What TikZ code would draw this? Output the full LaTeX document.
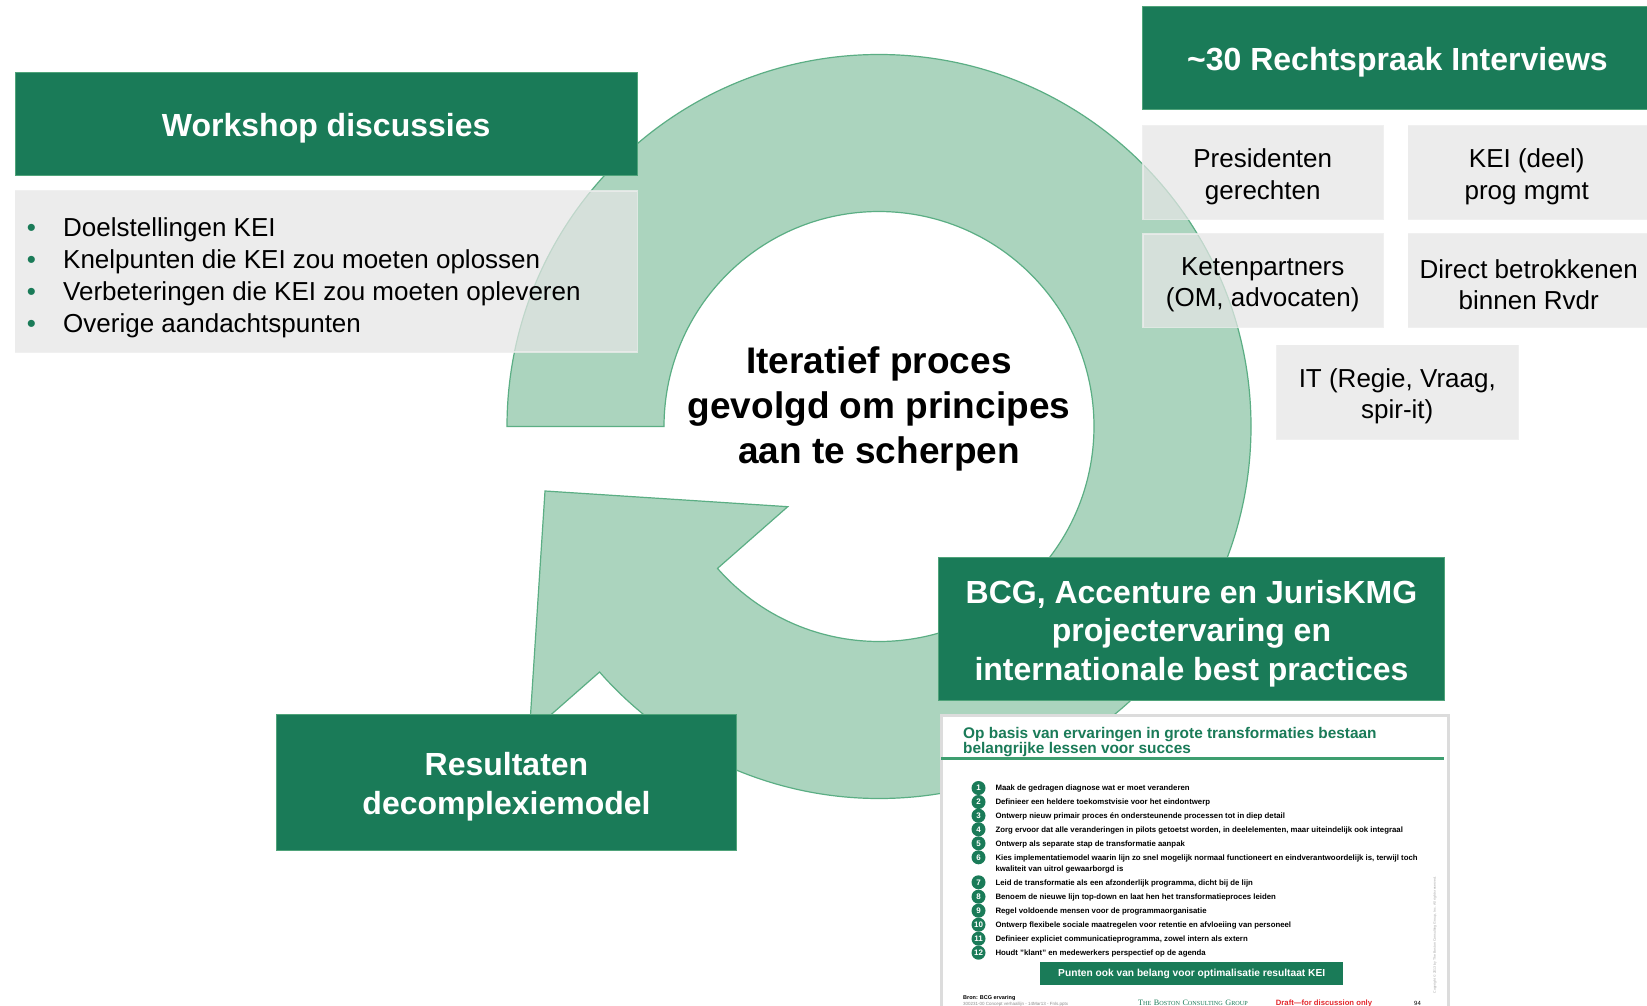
\documentclass[tikz,border=0pt]{standalone}
\usepackage{fontspec}
\setmainfont{Liberation Sans}
\newfontfamily\bcgserif{Liberation Serif}
\usetikzlibrary{calc}
\definecolor{hdrgreen}{HTML}{1A7B58}
\definecolor{hdredge}{HTML}{4FA37A}
\definecolor{arcfill}{HTML}{ABD4BE}
\definecolor{arcedge}{HTML}{5BAE84}
\definecolor{boxgray}{HTML}{E6E6E6}
\definecolor{boxedge}{HTML}{EDEDED}
\definecolor{draftred}{HTML}{E3262B}
\definecolor{slideedge}{HTML}{DCDCDC}
\definecolor{rulegreen}{HTML}{3E9E70}
\newcommand\bcgcap[2]{{\fontsize{8.2}{8}\selectfont #1}{\fontsize{6.2}{6}\selectfont #2}}
\begin{document}
\begin{tikzpicture}[x=1pt,y=-1pt,
  hdr/.style={fill=hdrgreen, draw=hdredge, line width=1pt, inner sep=0pt, anchor=north west},
  hdrtext/.style={text=white, font=\fontsize{32}{38.5}\selectfont\bfseries, align=center, inner sep=0pt},
  graybox/.style={fill=boxgray, fill opacity=0.72, draw=boxedge, draw opacity=0.8, line width=1.5pt,
    inner sep=0pt, anchor=north west},
  graytext/.style={text=black, font=\fontsize{26}{31.5}\selectfont, align=center, inner sep=0pt},
  bulletdot/.style={text=hdrgreen, font=\fontsize{26}{26}\selectfont, inner sep=0pt, anchor=base},
  bullettext/.style={font=\fontsize{26}{26}\selectfont, inner sep=0pt, anchor=base west},
  numdot/.style={circle, fill=hdrgreen, minimum size=14pt, inner sep=0pt, text=white,
    font=\fontsize{8}{8}\selectfont\bfseries},
  itemtext/.style={anchor=base west, inner sep=0pt, font=\fontsize{7.8}{12.3}\selectfont\bfseries},
  slidetitle/.style={anchor=base west, inner sep=0pt, text=hdrgreen, font=\fontsize{15.4}{15.4}\selectfont\bfseries},
  tiny/.style={anchor=base west, inner sep=0pt}
]
\useasboundingbox (0,0) rectangle (1647,1006);
\fill[white] (0,0) rectangle (1647,1006);

% ---- circular arrow ----
\coordinate (C) at (879,426.5);
\def\ang{138.7}
\coordinate (Iend) at ($(C)+(\ang:215)$);
\coordinate (Mid) at ($(C)+(\ang:293.5)$);
\coordinate (BarbOut) at ($(C)+(\ang:465.5)$);
\coordinate (BarbIn) at ($(C)+(\ang:121.5)$);
\coordinate (Tip) at ($(Mid)+({\ang+90}:172)$);
\draw[draw=arcedge, fill=arcfill, line width=1.2pt, line join=miter]
  ($(C)+(180:372)$) arc[start angle=180, end angle=498.7, radius=372]
  -- (BarbOut) -- (Tip) -- (BarbIn) -- (Iend)
  arc[start angle=498.7, end angle=180, radius=215] -- cycle;

% ---- workshop ----
\node[graybox, minimum width=622pt, minimum height=161pt] (wsbox) at (14.7,190) {};
\node[hdr, minimum width=622pt, minimum height=103pt] (ws) at (14.7,72.5) {};
\node[hdrtext] (wst) at ($(ws.center)+(0,4.2)$) {Workshop discussies};
\node[bulletdot] (b1) at (31.5,236.5) {\textbullet};
\node[bullettext] (l1) at (63,236.5) {Doelstellingen KEI};
\node[bulletdot] (b2) at (31.5,268.3) {\textbullet};
\node[bullettext] (l2) at (63,268.3) {Knelpunten die KEI zou moeten oplossen};
\node[bulletdot] (b3) at (31.5,300.3) {\textbullet};
\node[bullettext] (l3) at (63,300.3) {Verbeteringen die KEI zou moeten opleveren};
\node[bulletdot] (b4) at (31.5,332.3) {\textbullet};
\node[bullettext] (l4) at (63,332.3) {Overige aandachtspunten};

% ---- interviews ----
\node[hdr, minimum width=510pt, minimum height=102.7pt] (rs) at (1142,6.3) {};
\node[hdrtext] (rst) at ($(rs.center)+(0,4.2)$) {\textasciitilde 30 Rechtspraak Interviews};
\node[graybox, minimum width=240pt, minimum height=93.5pt] (pres) at (1142,125) {};
\node[graytext] (prest) at ($(pres.center)+(0,4.2)$) {Presidenten\\gerechten};
\node[graybox, minimum width=241pt, minimum height=93.5pt] (kei) at (1407.5,125) {};
\node[graytext] (keit) at ($(kei.center)+(-2,4.2)$) {KEI (deel)\\prog mgmt};
\node[graybox, minimum width=240pt, minimum height=93.7pt] (keten) at (1142,233) {};
\node[graytext] (ketent) at ($(keten.center)+(0,4.2)$) {Ketenpartners\\(OM, advocaten)};
\node[graybox, minimum width=241pt, minimum height=93.7pt] (direct) at (1407.5,233) {};
\node[graytext] (directt) at ($(direct.center)+(0,4.2)$) {Direct betrokkenen\\binnen Rvdr};
\node[graybox, minimum width=241pt, minimum height=93.5pt] (it) at (1276,344.5) {};
\node[graytext] (itt) at ($(it.center)+(0,4.2)$) {IT (Regie, Vraag,\\spir-it)};

% ---- centre ----
\node[font=\fontsize{37}{44.6}\selectfont\bfseries, align=center, inner sep=0pt] (centre) at (879,409) {Iteratief proces\\gevolgd om principes\\aan te scherpen};

% ---- BCG ----
\node[hdr, minimum width=506pt, minimum height=143pt] (bcg) at (938,556.7) {};
\node[hdrtext] (bcgt) at ($(bcg.center)+(0,5)$) {BCG, Accenture en JurisKMG\\projectervaring en\\internationale best practices};

% ---- slide ----
\node[draw=slideedge, line width=3pt, fill=white, anchor=north west, minimum width=507pt,
  minimum height=300pt, inner sep=0pt] (slide) at (939.5,713.5) {};
\node[slidetitle] (st1) at (963,738.2) {Op basis van ervaringen in grote transformaties bestaan};
\node[slidetitle] (st2) at (963,753.5) {belangrijke lessen voor succes};
\draw[rulegreen, line width=2.5pt] (941,758.5) -- (1444,758.5);

\node[numdot] (n1) at (978.5,788) {1};
\node[itemtext] (t1) at (995.3,790.8) {Maak de gedragen diagnose wat er moet veranderen};
\node[numdot] (n2) at (978.5,802) {2};
\node[itemtext] (t2) at (995.3,804.8) {Definieer een heldere toekomstvisie voor het eindontwerp};
\node[numdot] (n3) at (978.5,815.7) {3};
\node[itemtext] (t3) at (995.3,818.5) {Ontwerp nieuw primair proces én ondersteunende processen tot in diep detail};
\node[numdot] (n4) at (978.5,829.3) {4};
\node[itemtext] (t4) at (995.3,832.1) {Zorg ervoor dat alle veranderingen in pilots getoetst worden, in deelelementen, maar uiteindelijk ook integraal};
\node[numdot] (n5) at (978.5,843.3) {5};
\node[itemtext] (t5) at (995.3,846.1) {Ontwerp als separate stap de transformatie aanpak};
\node[numdot] (n6) at (978.5,857.3) {6};
\node[itemtext] (t6) at (995.3,860.1) {Kies implementatiemodel waarin lijn zo snel mogelijk normaal functioneert en eindverantwoordelijk is, terwijl toch};
\node[itemtext] (t6b) at (995.3,871.8) {kwaliteit van uitrol gewaarborgd is};
\node[numdot] (n7) at (978.5,882.3) {7};
\node[itemtext] (t7) at (995.3,885.1) {Leid de transformatie als een afzonderlijk programma, dicht bij de lijn};
\node[numdot] (n8) at (978.5,896.7) {8};
\node[itemtext] (t8) at (995.3,899.5) {Benoem de nieuwe lijn top-down en laat hen het transformatieproces leiden};
\node[numdot] (n9) at (978.5,910.7) {9};
\node[itemtext] (t9) at (995.3,913.5) {Regel voldoende mensen voor de programmaorganisatie};
\node[numdot] (n10) at (978.5,924.7) {10};
\node[itemtext] (t10) at (995.3,927.5) {Ontwerp flexibele sociale maatregelen voor retentie en afvloeiing van personeel};
\node[numdot] (n11) at (978.5,938.7) {11};
\node[itemtext] (t11) at (995.3,941.5) {Definieer expliciet communicatieprogramma, zowel intern als extern};
\node[numdot] (n12) at (978.5,952.7) {12};
\node[itemtext] (t12) at (995.3,955.5) {Houdt "klant" en medewerkers perspectief op de agenda};

\node[fill=hdrgreen, anchor=north west, minimum width=303pt, minimum height=23pt, inner sep=0pt,
  text=white, font=\fontsize{10.2}{10.2}\selectfont\bfseries] (btn) at (1040,962) {Punten ook van belang voor optimalisatie resultaat KEI};

\node[tiny, font=\fontsize{5.5}{5.5}\selectfont\bfseries] (bron) at (963,999) {Bron: BCG ervaring};
\node[tiny, text=black!45, font=\fontsize{4.5}{4.5}\selectfont] (file) at (963,1005.5) {300231-00 Concept verhaallijn - 14Mar13 - Fnls.pptx};
\node[tiny, text=hdrgreen, font=\bcgserif] (bcglogo) at (1138,1005) {\bcgcap{T}{HE} \bcgcap{B}{OSTON} \bcgcap{C}{ONSULTING} \bcgcap{G}{ROUP}};
\node[tiny, text=draftred, font=\fontsize{7.7}{7.7}\selectfont\bfseries] (draft) at (1275.7,1005) {Draft—for discussion only};
\node[tiny, font=\fontsize{6}{6}\selectfont] (page) at (1414,1005) {94};
\node[rotate=90, inner sep=0pt, text=black!35, font=\fontsize{3.5}{3.5}\selectfont] (copy) at (1435,935) {Copyright © 2013 by The Boston Consulting Group, Inc. All rights reserved.};

% ---- results ----
\node[hdr, minimum width=460pt, minimum height=136pt] (res) at (276,714) {};
\node[hdrtext] (rest) at ($(res.center)+(0,4.2)$) {Resultaten\\decomplexiemodel};
\end{tikzpicture}
\end{document}
